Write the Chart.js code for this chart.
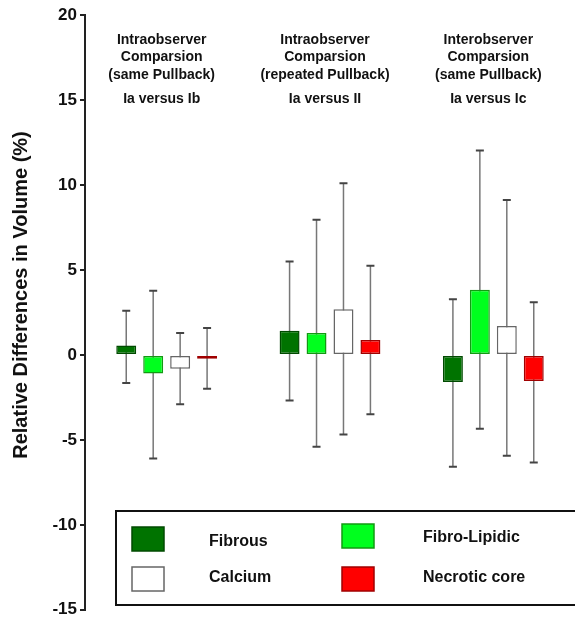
<!DOCTYPE html>
<html>
<head>
<meta charset="utf-8">
<script src="https://cdn.jsdelivr.net/npm/chart.js@4"></script>
<style>
  body { margin: 0; background: #fff; }
  #wrap { width: 575px; height: 623px; }
</style>
</head>
<body>
<div id="wrap"><canvas id="volume-chart"></canvas></div>
<script>
// comparisons (x categories)
const groups = ['Ia versus Ib', 'Ia versus II', 'Ia versus Ic'];
const groupTitles = [
  ['Intraobserver', 'Comparsion', '(same Pullback)'],
  ['Intraobserver', 'Comparsion', '(repeated Pullback)'],
  ['Interobserver', 'Comparsion', '(same Pullback)']
];

// mean differences (%) and whisker ranges per tissue type
const fibrous = [0.55, 1.42, -1.6];
const fibrousMin = [-1.66, -2.68, -6.58];
const fibrousMax = [2.6, 5.49, 3.28];

const fibroLipidic = [-1.1, 1.29, 3.83];
const fibroLipidicMin = [-6.1, -5.41, -4.34];
const fibroLipidicMax = [3.77, 7.95, 12.03];

const calcium = [-0.82, 2.69, 1.7];
const calciumMin = [-2.9, -4.69, -5.94];
const calciumMax = [1.29, 10.1, 9.12];

const necrotic = [-0.23, 0.88, -1.54];
const necroticMin = [-2.0, -3.5, -6.33];
const necroticMax = [1.58, 5.25, 3.1];

const FONT = '"Liberation Sans", Arial, sans-serif';

// range lines behind the boxes
const whiskers = {
  id: 'whiskers',
  beforeDatasetsDraw(chart) {
    const ctx = chart.ctx, y = chart.scales.y;
    ctx.save();
    chart.data.datasets.forEach((ds, i) => {
      chart.getDatasetMeta(i).data.forEach((bar, j) => {
        const top = y.getPixelForValue(ds.max[j]);
        const bot = y.getPixelForValue(ds.min[j]);
        ctx.strokeStyle = '#777';
        ctx.lineWidth = 1.5;
        ctx.beginPath();
        ctx.moveTo(bar.x, top);
        ctx.lineTo(bar.x, bot);
        ctx.stroke();
        ctx.strokeStyle = '#444';
        ctx.lineWidth = 2;
        ctx.beginPath();
        ctx.moveTo(bar.x - 4, top); ctx.lineTo(bar.x + 4, top);
        ctx.moveTo(bar.x - 4, bot); ctx.lineTo(bar.x + 4, bot);
        ctx.stroke();
      });
    });
    ctx.restore();
  }
};

// group headings, y title and the boxed legend
const extras = {
  id: 'extras',
  afterDraw(chart) {
    const ctx = chart.ctx, x = chart.scales.x;
    ctx.save();
    ctx.fillStyle = '#111';
    ctx.textAlign = 'center';
    ctx.textBaseline = 'middle';
    ctx.font = 'bold 14px ' + FONT;
    groups.forEach((g, j) => {
      const cx = x.getPixelForValue(j) - 5;
      groupTitles[j].forEach((line, k) => ctx.fillText(line, cx, 40 + k * 17.5));
      ctx.fillText(g, cx, 99.5);
    });

    // y axis title
    ctx.save();
    ctx.translate(21.5, 295);
    ctx.rotate(-Math.PI / 2);
    ctx.font = 'bold 20px ' + FONT;
    ctx.fillText('Relative Differences in Volume (%)', 0, 0);
    ctx.restore();

    // legend box
    ctx.strokeStyle = '#111';
    ctx.lineWidth = 2;
    ctx.strokeRect(116, 511, 500, 94);
    const slots = [
      { sx: 132, sy: 527, tx: 209, ty: 541.5 },
      { sx: 342, sy: 524, tx: 423, ty: 538 },
      { sx: 132, sy: 567, tx: 209, ty: 578 },
      { sx: 342, sy: 567, tx: 423, ty: 578 }
    ];
    ctx.textAlign = 'left';
    ctx.font = 'bold 16px ' + FONT;
    chart.data.datasets.forEach((ds, i) => {
      const s = slots[i];
      ctx.fillStyle = ds.backgroundColor;
      ctx.fillRect(s.sx, s.sy, 32, 24);
      ctx.strokeStyle = ds.borderColor;
      ctx.lineWidth = 1.5;
      ctx.strokeRect(s.sx, s.sy, 32, 24);
      ctx.fillStyle = '#111';
      ctx.fillText(ds.label, s.tx, s.ty);
    });
    ctx.restore();
  }
};

new Chart(document.getElementById('volume-chart'), {
  type: 'bar',
  data: {
    labels: groups,
    datasets: [
      { label: 'Fibrous', data: fibrous, min: fibrousMin, max: fibrousMax,
        backgroundColor: '#007300', borderColor: '#004a00' },
      { label: 'Fibro-Lipidic', data: fibroLipidic, min: fibroLipidicMin, max: fibroLipidicMax,
        backgroundColor: '#00ff1e', borderColor: '#129a12' },
      { label: 'Calcium', data: calcium, min: calciumMin, max: calciumMax,
        backgroundColor: '#ffffff', borderColor: '#666666' },
      { label: 'Necrotic core', data: necrotic, min: necroticMin, max: necroticMax,
        backgroundColor: '#ff0000', borderColor: '#a00000' }
    ]
  },
  options: {
    responsive: true,
    maintainAspectRatio: false,
    animation: false,
    layout: { padding: { top: 15, bottom: 12, left: 0, right: 0 } },
    datasets: {
      bar: { borderWidth: 1.5, categoryPercentage: 0.66, barPercentage: 0.74, borderSkipped: false }
    },
    plugins: {
      legend: { display: false },
      tooltip: { enabled: false }
    },
    scales: {
      x: { display: false },
      y: {
        min: -15,
        max: 20,
        afterFit: s => { s.width = 85; },
        ticks: {
          stepSize: 5,
          color: '#111',
          padding: 3,
          font: { family: FONT, size: 17, weight: 'bold' }
        },
        grid: { drawOnChartArea: false, tickLength: 5, color: '#222', lineWidth: 2 },
        border: { color: '#222', width: 2 }
      }
    }
  },
  plugins: [whiskers, extras]
});
</script>
</body>
</html>
